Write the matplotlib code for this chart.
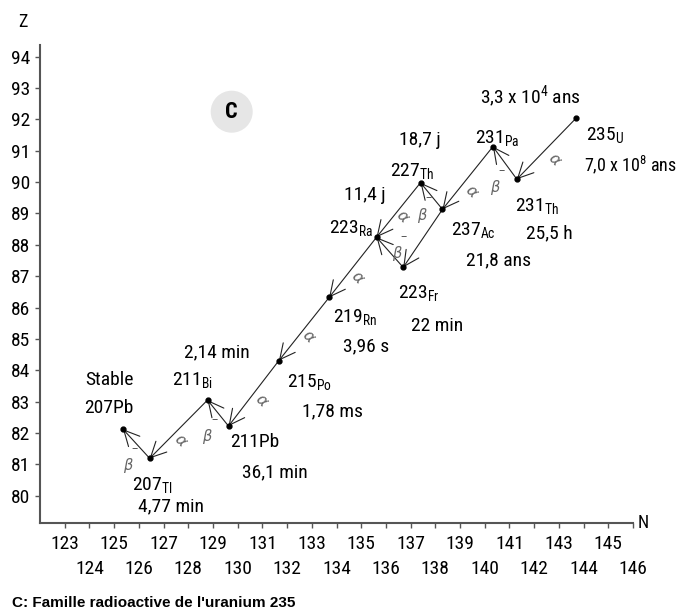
import os
import matplotlib
matplotlib.use('Agg')
import matplotlib.pyplot as plt
from matplotlib import font_manager as fm

# --- data: nuclides of the uranium 235 family (N, Z)
nuclides = ['235U', '231Th', '231Pa', '227Ac', '227Th', '223Ra', '223Fr',
            '219Rn', '215Po', '211Pb', '211Bi', '207Tl', '207Pb']
n_vals = [143.70, 141.30, 140.33, 138.29, 137.40, 135.62, 136.70,
          133.70, 131.67, 129.63, 128.78, 126.44, 125.36]
z_vals = [92.04, 90.09, 91.13, 89.13, 89.98, 88.24, 87.28,
          86.32, 84.31, 82.22, 83.05, 81.19, 82.12]
labels = ['235$_\\mathregular{U}$', '231$_\\mathregular{Th}$', '231$_\\mathregular{Pa}$',
          '237$_\\mathregular{Ac}$', '227$_\\mathregular{Th}$', '223$_\\mathregular{Ra}$',
          '223$_\\mathregular{Fr}$', '219$_\\mathregular{Rn}$', '215$_\\mathregular{Po}$',
          '211Pb', '211$_\\mathregular{Bi}$', '207$_\\mathregular{Tl}$', '207Pb']
half_lives = ['7,0 x 10$^\\mathregular{8}$ ans', '25,5 h', '3,3 x 10$^\\mathregular{4}$ ans',
              '21,8 ans', '18,7 j', '11,4 j', '22 min', '3,96 s', '1,78 ms',
              '36,1 min', '2,14 min', '4,77 min', 'Stable']

# decays: parent, daughter, mode
decays = [('235U', '231Th', 'a'), ('231Th', '231Pa', 'b'), ('231Pa', '227Ac', 'a'),
          ('227Ac', '227Th', 'b'), ('227Ac', '223Fr', 'a'), ('227Th', '223Ra', 'a'),
          ('223Fr', '223Ra', 'b'), ('223Ra', '219Rn', 'a'), ('219Rn', '215Po', 'a'),
          ('215Po', '211Pb', 'a'), ('211Pb', '211Bi', 'b'), ('211Bi', '207Tl', 'a'),
          ('207Tl', '207Pb', 'b')]

x_ticks = list(range(123, 147))
y_ticks = list(range(80, 95))
caption = "C: Famille radioactive de l'uranium 235"

# --- layout (pixel offsets, y up)
label_off = [(10, -23), (-2, -32), (-18, 3), (9, -26), (-31, 6), (-48, 4), (-5, -31),
             (4, -25), (8, -27), (2, -21), (-36, 14), (-18, -32), (-39, 16)]
half_off = [(8, -53), (9, -59), (-13, 43), (24, -56), (-22, 38), (-33, 37), (8, -64),
            (14, -54), (23, -56), (13, -51), (-24, 43), (-12, -53), (-38, 44)]
greek_off = [(8, -11), (-10, -25), (4, -14), (-10, -19), None, (4, -7), (7, -1),
             (5, -10), (4, -8), (8, -7), (-11, -23), (2, -11), (-9, -22)]


def pick_font():
    cands = [('Liberation Sans Narrow', 'normal'), ('Roboto Condensed', 'normal'),
             ('Noto Sans', 'condensed'), ('DejaVu Sans', 'condensed'),
             ('Roboto', 'condensed'), ('Open Sans', 'condensed')]
    for fam, st in cands:
        try:
            path = fm.findfont(fm.FontProperties(family=fam, stretch=st),
                               fallback_to_default=False)
        except ValueError:
            continue
        base = os.path.basename(path).lower()
        if st == 'normal' or 'condensed' in base or 'narrow' in base:
            return fam, st, 14
    return 'DejaVu Sans', 'normal', 11


fam, stretch, fs = pick_font()
plt.rcParams['font.family'] = [fam, 'DejaVu Sans']
plt.rcParams['font.stretch'] = stretch

fig = plt.figure(figsize=(6.78, 6.13), dpi=100)
ax = fig.add_axes([40 / 678, 90 / 613, 593 / 678, 478 / 613])
ax.set_xlim(122, 146)
ax.set_ylim(79.13, 94.37)

for s in ['top', 'right']:
    ax.spines[s].set_visible(False)
for s in ['left', 'bottom']:
    ax.spines[s].set_color('#555555')
    ax.spines[s].set_linewidth(1.5)

odd = [t for t in x_ticks if t % 2 == 1]
even = [t for t in x_ticks if t % 2 == 0]
ax.set_xticks(odd, labels=[str(t) for t in odd])
ax.set_xticks(even, labels=[str(t) for t in even], minor=True)
ax.set_yticks(y_ticks, labels=[str(t) for t in y_ticks])
ax.tick_params(axis='both', which='both', direction='out', length=3.6, width=1,
               color='#555555', labelsize=fs)
ax.tick_params(axis='x', which='major', pad=5)
ax.tick_params(axis='x', which='minor', pad=23)
ax.tick_params(axis='y', pad=3.6)

pos = {name: (n, z) for name, n, z in zip(nuclides, n_vals, z_vals)}

# decay arrows
for (p, d, mode), goff in zip(decays, greek_off):
    ax.annotate('', xy=pos[d], xytext=pos[p],
                arrowprops=dict(arrowstyle='->,head_length=1.1,head_width=0.55',
                                color='#222222', lw=0.8, shrinkA=0, shrinkB=0,
                                mutation_scale=10))
    if goff is None:
        continue
    mid = ((pos[p][0] + pos[d][0]) / 2, (pos[p][1] + pos[d][1]) / 2)
    if mode == 'a':
        ax.annotate('α', xy=mid, xytext=goff, textcoords='offset pixels',
                    ha='center', va='center', fontsize=11.5, color='#666666',
                    rotation=-45, family='DejaVu Sans', style='italic')
    else:
        ax.annotate('β', xy=mid, xytext=goff, textcoords='offset pixels',
                    ha='center', va='center', fontsize=10.5, color='#666666',
                    family='DejaVu Sans', style='italic')
        ax.annotate('–', xy=mid, xytext=(goff[0] + 7, goff[1] + 17),
                    textcoords='offset pixels', ha='center', va='center',
                    fontsize=9, color='#555555', family='DejaVu Sans')

ax.plot(n_vals, z_vals, 'o', color='black', ms=3.5, zorder=3)

for name, lab, hl, lo, ho in zip(nuclides, labels, half_lives, label_off, half_off):
    ax.annotate(lab, xy=pos[name], xytext=lo, textcoords='offset pixels',
                ha='left', va='baseline', fontsize=fs)
    hs = fs - 1 if name == '235U' else fs
    ax.annotate(hl, xy=pos[name], xytext=ho, textcoords='offset pixels',
                ha='left', va='baseline', fontsize=hs)

fig.text(23 / 678, 1 - 22 / 613, 'Z', ha='center', va='center', fontsize=fs - 1)
ax.text(1.008, 0, 'N', transform=ax.transAxes, ha='left', va='center', fontsize=fs - 1)

fig.text(231.7 / 678, 1 - 111.7 / 613, 'C', ha='center', va='center', fontsize=16,
         fontweight='bold', bbox=dict(boxstyle='circle,pad=0.45', fc='#e6e6e6', ec='none'))

fig.text(12 / 678, 1 - 603 / 613, caption, ha='left', va='center', fontsize=11,
         fontweight='bold', family='Liberation Sans')

fig.savefig('out.png', dpi=100)
